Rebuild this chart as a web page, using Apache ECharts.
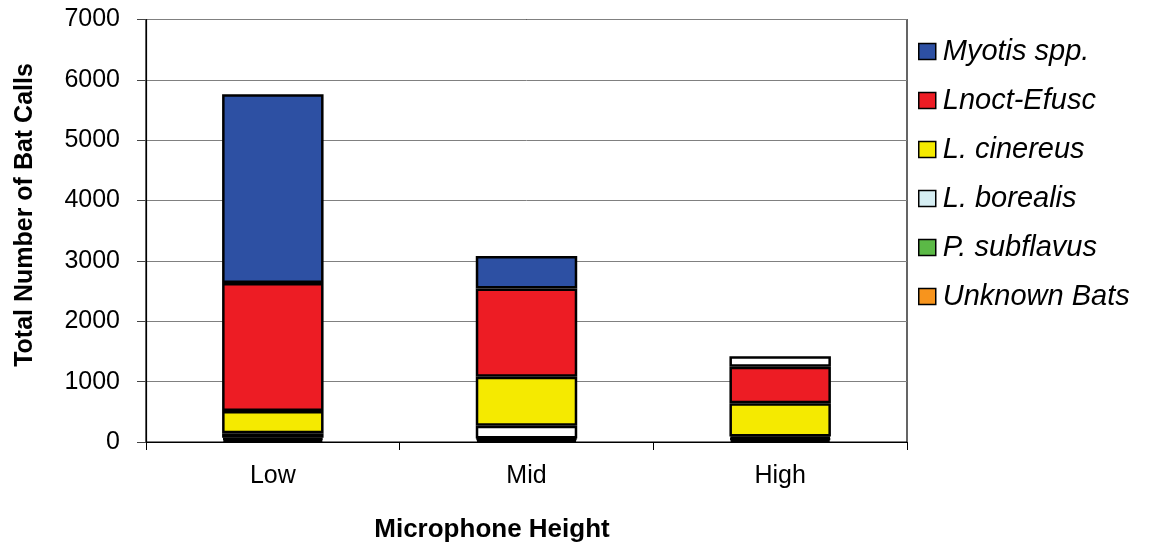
<!DOCTYPE html>
<html>
<head>
<meta charset="utf-8">
<script src="https://cdn.jsdelivr.net/npm/echarts@6/dist/echarts.min.js"></script>
<style>
html,body{margin:0;padding:0;background:#fff;}
#chart{width:1157px;height:546px;}
</style>
</head>
<body>
<div id="chart"></div>
<script>
// ---- data ----
var categories = ['Low', 'Mid', 'High'];
var yTicks = [0, 1000, 2000, 3000, 4000, 5000, 6000, 7000];
var unknownBats = [40, 40, 40];
var pSubflavus = [30, 20, 20];
var lBorealis = [75, 210, 30];
var lCinereus = [370, 810, 550];
var lnoctEfusc = [2120, 1465, 605];
var myotisSpp = [3125, 535, 177];

// ---- styles ----
var seriesDefs = [
  {name: 'Unknown Bats', values: unknownBats, color: '#F7941D'},
  {name: 'P. subflavus', values: pSubflavus, color: '#5BB946'},
  {name: 'L. borealis', values: lBorealis, color: '#D6EEF3', barColor: '#FFFFFF'},
  {name: 'L. cinereus', values: lCinereus, color: '#F5EA00'},
  {name: 'Lnoct-Efusc', values: lnoctEfusc, color: '#ED1C24'},
  {name: 'Myotis spp.', values: myotisSpp, color: '#2D50A3', overrides: {2: '#FFFFFF'}}
];

var series = seriesDefs.map(function (d) {
  return {
    name: d.name,
    type: 'bar',
    stack: 'total',
    barWidth: '40%',
    itemStyle: {color: d.color, borderColor: '#000', borderWidth: 2.5},
    emphasis: {disabled: true},
    data: d.values.map(function (v, i) {
      var c = (d.overrides && d.overrides[i]) || d.barColor;
      return c ? {value: v, itemStyle: {color: c}} : v;
    })
  };
});

var chart = echarts.init(document.getElementById('chart'), null, {renderer: 'canvas'});
var font = 'Liberation Sans, Arial, sans-serif';
chart.setOption({
  animation: false,
  backgroundColor: '#fff',
  grid: {left: 146, right: 250, top: 19.5, bottom: 104, show: true, borderColor: '#000', borderWidth: 1.2, backgroundColor: 'transparent'},
  legend: {
    orient: 'vertical',
    left: 913,
    top: 32,
    itemWidth: 17,
    itemHeight: 16,
    itemGap: 20,
    icon: 'rect',
    data: seriesDefs.map(function (d) { return d.name; }).reverse(),
    itemStyle: {borderColor: '#000', borderWidth: 1.5},
    textStyle: {fontFamily: font, fontSize: 29, fontStyle: 'italic', color: '#000', lineHeight: 29, padding: [0, 0, 0, 2]}
  },
  xAxis: {
    type: 'category',
    data: categories,
    axisLine: {lineStyle: {color: '#000', width: 1.2}},
    axisTick: {show: true, length: 8, lineStyle: {color: '#000'}},
    axisLabel: {fontFamily: font, fontSize: 25, color: '#000', margin: 22}
  },
  yAxis: {
    type: 'value',
    min: yTicks[0],
    max: yTicks[yTicks.length - 1],
    interval: yTicks[1] - yTicks[0],
    axisLine: {show: true, lineStyle: {color: '#000', width: 1.2}},
    axisTick: {show: true, length: 9, lineStyle: {color: '#444'}},
    splitLine: {lineStyle: {color: '#808080', width: 1}},
    axisLabel: {fontFamily: font, fontSize: 25, color: '#000', margin: 26, formatter: function (v) { return String(v); }}
  },
  graphic: [
    {
      type: 'text',
      x: 492, y: 530,
      style: {text: 'Microphone Height', fontFamily: font, fontSize: 26, fontWeight: 'bold', fill: '#000', textAlign: 'center', textVerticalAlign: 'middle'}
    },
    {
      type: 'text',
      x: 25, y: 215,
      rotation: Math.PI / 2,
      style: {text: 'Total Number of Bat Calls', fontFamily: font, fontSize: 25, fontWeight: 'bold', fill: '#000', textAlign: 'center', textVerticalAlign: 'middle'}
    }
  ],
  series: series
});
</script>
</body>
</html>
